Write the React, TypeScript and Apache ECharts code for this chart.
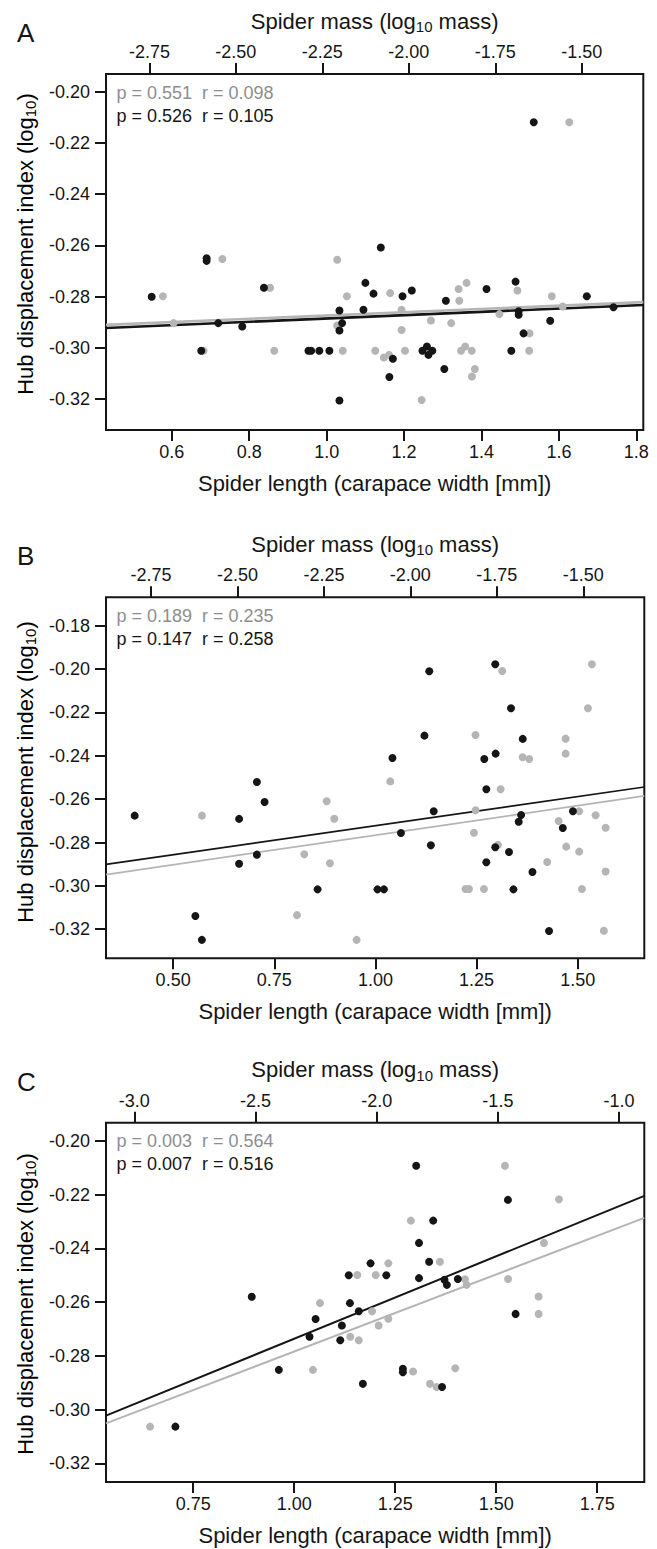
import React, { useEffect, useRef } from "react";
import * as echarts from "echarts";

const FONT = "'Liberation Sans', Arial, Helvetica, sans-serif";
const BLACK = "#151515";
const GRAY = "#b5b5b5";
const TEXT_GRAY = "#8e8e8e";

// ---------- Panel A ----------
const lengthTicksA = [0.6, 0.8, 1.0, 1.2, 1.4, 1.6, 1.8];
const massTicksA = [-2.75, -2.5, -2.25, -2.0, -1.75, -1.5];
const hubTicksA = [-0.32, -0.3, -0.28, -0.26, -0.24, -0.22, -0.2];
// black: [carapace width, hub index]
const blackA = [
  [0.548, -0.28], [0.690, -0.265], [0.690, -0.266], [0.838, -0.2765], [0.720, -0.2903],
  [0.782, -0.2916], [0.676, -0.3011], [1.140, -0.2608], [1.100, -0.2746], [1.121, -0.2788],
  [1.196, -0.2798], [1.220, -0.2776], [1.033, -0.2854], [1.095, -0.2851], [1.040, -0.2903],
  [1.033, -0.2932], [0.953, -0.3011], [0.960, -0.3011], [0.981, -0.3011], [1.007, -0.3011],
  [1.171, -0.3042], [1.162, -0.3113], [1.033, -0.3205], [1.2475, -0.3011], [1.259, -0.2994],
  [1.263, -0.3027], [1.273, -0.3011], [1.308, -0.2816], [1.304, -0.3082], [1.535, -0.2119],
  [1.413, -0.277], [1.488, -0.2741], [1.496, -0.2857], [1.496, -0.287], [1.5085, -0.2943],
  [1.477, -0.3011], [1.5775, -0.2894], [1.672, -0.2798], [1.741, -0.2841],
];
// gray: [log10 mass, hub index]
const grayA = [
  [-2.711, -0.2798], [-2.539, -0.2653], [-2.401, -0.2765], [-2.68, -0.2903], [-2.5935, -0.3011],
  [-2.389, -0.3011], [-2.207, -0.2656], [-2.179, -0.2798], [-2.207, -0.2912], [-2.191, -0.3011],
  [-2.097, -0.3011], [-2.072, -0.3037], [-2.057, -0.3027], [-2.054, -0.2786], [-2.021, -0.2851],
  [-2.021, -0.293], [-2.011, -0.3011], [-1.936, -0.2893], [-1.8775, -0.2903], [-1.963, -0.3203],
  [-1.856, -0.277], [-1.833, -0.2746], [-1.854, -0.2816], [-1.849, -0.3011], [-1.837, -0.2994],
  [-1.8175, -0.3111], [-1.536, -0.2119], [-1.818, -0.3011], [-1.809, -0.3082], [-1.738, -0.2868],
  [-1.686, -0.2776], [-1.651, -0.2943], [-1.652, -0.3011], [-1.5865, -0.2798], [-1.555, -0.2838],
];
const fitBlackA = [[0.43, -0.2922], [1.818, -0.2832]];
const fitGrayA = [[-2.8755, -0.291], [-1.322, -0.2821]];

// ---------- Panel B ----------
const lengthTicksB = [0.5, 0.75, 1.0, 1.25, 1.5];
const massTicksB = [-2.75, -2.5, -2.25, -2.0, -1.75, -1.5];
const hubTicksB = [-0.32, -0.3, -0.28, -0.26, -0.24, -0.22, -0.2, -0.18];
const blackB = [
  [0.405, -0.2676], [0.663, -0.2691], [0.707, -0.2521], [0.726, -0.2613], [0.663, -0.2898],
  [0.707, -0.2856], [0.857, -0.3016], [1.005, -0.3016], [1.021, -0.3016], [0.555, -0.3139],
  [0.571, -0.3249], [1.042, -0.241], [1.133, -0.201], [1.121, -0.2307], [1.144, -0.2656],
  [1.063, -0.2756], [1.137, -0.2813], [1.296, -0.1978], [1.335, -0.2181], [1.364, -0.2322],
  [1.269, -0.2415], [1.297, -0.239], [1.274, -0.2554], [1.36, -0.2673], [1.354, -0.2704],
  [1.296, -0.2822], [1.33, -0.2844], [1.274, -0.2891], [1.388, -0.2936], [1.341, -0.3016],
  [1.429, -0.3208], [1.488, -0.2656], [1.463, -0.2733],
];
const grayB = [
  [-2.6026, -0.2676], [-2.242, -0.261], [-2.2201, -0.269], [-2.3068, -0.2854], [-2.2325, -0.2896],
  [-2.3279, -0.3135], [-2.1553, -0.3249], [-2.0582, -0.2518], [-1.7344, -0.2009], [-1.8116, -0.2304],
  [-1.6754, -0.2407], [-1.6563, -0.2415], [-1.739, -0.2554], [-1.8116, -0.2651], [-1.8162, -0.2755],
  [-1.7468, -0.2811], [-1.8405, -0.3014], [-1.8307, -0.3014], [-1.7873, -0.3014], [-1.4751, -0.1978],
  [-1.4866, -0.2181], [-1.5511, -0.2321], [-1.5511, -0.239], [-1.5118, -0.2656], [-1.4644, -0.2674],
  [-1.4354, -0.2732], [-1.5713, -0.2701], [-1.5494, -0.2819], [-1.5118, -0.2842], [-1.6043, -0.289],
  [-1.4354, -0.2934], [-1.504, -0.3014], [-1.4404, -0.3207],
];
const fitBlackB = [[0.3341, -0.2901], [1.6644, -0.2544]];
const fitGrayB = [[-2.8801, -0.2948], [-1.3236, -0.2585]];

// ---------- Panel C ----------
const lengthTicksC = [0.75, 1.0, 1.25, 1.5, 1.75];
const massTicksC = [-3.0, -2.5, -2.0, -1.5, -1.0];
const hubTicksC = [-0.32, -0.3, -0.28, -0.26, -0.24, -0.22, -0.2];
const blackC = [
  [0.706, -0.3063], [0.895, -0.258], [0.962, -0.2852], [1.038, -0.2729], [1.053, -0.2663],
  [1.114, -0.2742], [1.118, -0.2687], [1.138, -0.2604], [1.16, -0.2634], [1.135, -0.25],
  [1.189, -0.2456], [1.228, -0.25], [1.17, -0.2904], [1.309, -0.238], [1.344, -0.2297],
  [1.334, -0.245], [1.309, -0.2511], [1.372, -0.2517], [1.378, -0.2536], [1.405, -0.2514],
  [1.269, -0.2848], [1.269, -0.2861], [1.366, -0.2916], [1.302, -0.2093], [1.529, -0.222],
  [1.548, -0.2644],
];
const grayC = [
  [-2.935, -0.3063], [-2.234, -0.2604], [-2.263, -0.2852], [-2.109, -0.2729], [-2.074, -0.2742],
  [-1.992, -0.2687], [-2.019, -0.2634], [-2.08, -0.2499], [-2.004, -0.2499], [-1.952, -0.2456],
  [-1.952, -0.2662], [-1.859, -0.2297], [-1.739, -0.245], [-1.636, -0.2515], [-1.629, -0.2536],
  [-1.85, -0.2858], [-1.78, -0.2904], [-1.753, -0.2916], [-1.676, -0.2846], [-1.471, -0.2093],
  [-1.248, -0.2218], [-1.31, -0.238], [-1.458, -0.2514], [-1.332, -0.2579], [-1.332, -0.2644],
];
const fitBlackC = [[0.5342, -0.3022], [1.8666, -0.2205]];
const fitGrayC = [[-3.1167, -0.3051], [-0.896, -0.2287]];

const statsGray = ["p = 0.551  r = 0.098", "p = 0.189  r = 0.235", "p = 0.003  r = 0.564"];
const statsBlack = ["p = 0.526  r = 0.105", "p = 0.147  r = 0.258", "p = 0.007  r = 0.516"];
const panelLetters = ["A", "B", "C"];

const MASS_TITLE = "{a|Spider mass (log}{s|10}{a| mass)}";
const LENGTH_TITLE = "Spider length (carapace width [mm])";
const HUB_TITLE = "{a|Hub displacement index (log}{s|10}{a|)}";

const rich = {
  a: { fontSize: 22, lineHeight: 26, fontFamily: FONT, color: BLACK },
  s: { fontSize: 15, lineHeight: 16, fontFamily: FONT, color: BLACK, verticalAlign: "bottom" as const },
};

export default function App() {
  const ref = useRef<HTMLDivElement>(null);
  useEffect(() => {
    document.body.style.margin = "0";
    if (!ref.current) return;
    const chart = echarts.init(ref.current, undefined, { renderer: "svg" });

    const layout = [
      { grid: { left: 106, top: 74, width: 537.3, height: 356 }, len: [0.43, 1.818], mass: [-2.8755, -1.322], hub: [-0.332, -0.1931], lw: 2.6, titleYc: 244, lenDec: 1, massDec: 2 },
      { grid: { left: 106, top: 597.3, width: 538.3, height: 361 }, len: [0.3341, 1.6644], mass: [-2.8801, -1.3236], hub: [-0.3334, -0.1669], lw: 1.7, titleYc: 772, lenDec: 2, massDec: 2 },
      { grid: { left: 106, top: 1122.7, width: 538.3, height: 363.3 }, len: [0.5342, 1.8666], mass: [-3.1167, -0.896], hub: [-0.3269, -0.1933], lw: 2.0, titleYc: 1304, lenDec: 2, massDec: 1 },
    ];
    const lenTicks = [lengthTicksA, lengthTicksB, lengthTicksC];
    const massTicks = [massTicksA, massTicksB, massTicksC];
    const hubTicks = [hubTicksA, hubTicksB, hubTicksC];
    const blacks = [blackA, blackB, blackC];
    const grays = [grayA, grayB, grayC];
    const fitBlacks = [fitBlackA, fitBlackB, fitBlackC];
    const fitGrays = [fitGrayA, fitGrayB, fitGrayC];

    const tick = (vals: number[]) => ({
      show: true,
      length: 11,
      lineStyle: { color: BLACK, width: 2 },
      customValues: vals,
    });
    const label = (vals: number[], dec: number, margin: number) => ({
      customValues: vals,
      formatter: (v: number) => Number(v).toFixed(dec),
      fontSize: 18,
      fontFamily: FONT,
      color: BLACK,
      margin,
    });

    const grid: any[] = [];
    const xAxis: any[] = [];
    const yAxis: any[] = [];
    const series: any[] = [];
    const graphic: any[] = [];

    layout.forEach((p, i) => {
      grid.push({ ...p.grid, show: true, borderWidth: 2, borderColor: BLACK, backgroundColor: "transparent" });
      xAxis.push({
        type: "value", gridIndex: i, position: "bottom", min: p.len[0], max: p.len[1],
        axisLine: { show: false }, splitLine: { show: false },
        axisTick: tick(lenTicks[i]), axisLabel: label(lenTicks[i], p.lenDec, 13),
        name: LENGTH_TITLE, nameLocation: "middle", nameGap: 40,
        nameTextStyle: { fontSize: 22, lineHeight: 26, fontFamily: FONT, color: BLACK },
      });
      xAxis.push({
        type: "value", gridIndex: i, position: "top", min: p.mass[0], max: p.mass[1],
        axisLine: { show: false }, splitLine: { show: false },
        axisTick: tick(massTicks[i]), axisLabel: label(massTicks[i], p.massDec, 13),
        name: MASS_TITLE, nameLocation: "middle", nameGap: 40,
        nameTextStyle: { rich },
      });
      yAxis.push({
        type: "value", gridIndex: i, min: p.hub[0], max: p.hub[1],
        axisLine: { show: false }, splitLine: { show: false },
        axisTick: tick(hubTicks[i]), axisLabel: label(hubTicks[i], 2, 16),
      });
      series.push(
        { type: "line", xAxisIndex: 2 * i, yAxisIndex: i, data: fitBlacks[i], symbol: "none", silent: true, z: 1, lineStyle: { color: BLACK, width: p.lw } },
        { type: "line", xAxisIndex: 2 * i + 1, yAxisIndex: i, data: fitGrays[i], symbol: "none", silent: true, z: 1, lineStyle: { color: GRAY, width: p.lw } },
        { type: "scatter", xAxisIndex: 2 * i + 1, yAxisIndex: i, data: grays[i], symbol: "circle", symbolSize: 8, z: 2, itemStyle: { color: GRAY, opacity: 1 } },
        { type: "scatter", xAxisIndex: 2 * i, yAxisIndex: i, data: blacks[i], symbol: "circle", symbolSize: 8, z: 3, itemStyle: { color: BLACK, opacity: 1 } },
      );
      const top = p.grid.top;
      graphic.push(
        { type: "text", x: 17, y: top - 41, style: { text: panelLetters[i], fontSize: 26, fontFamily: FONT, fill: BLACK, align: "left", verticalAlign: "middle" } },
        { type: "text", x: 116.5, y: top + 18.5, style: { text: statsGray[i].replace(/ {2}/g, "\u00a0\u00a0"), fontSize: 18, fontFamily: FONT, fill: TEXT_GRAY, align: "left", verticalAlign: "middle" } },
        { type: "text", x: 116.5, y: top + 41.5, style: { text: statsBlack[i].replace(/ {2}/g, "\u00a0\u00a0"), fontSize: 18, fontFamily: FONT, fill: BLACK, align: "left", verticalAlign: "middle" } },
        { type: "text", x: 25, y: p.titleYc, rotation: Math.PI / 2, style: { text: HUB_TITLE, rich, align: "center", verticalAlign: "middle" } },
      );
    });

    chart.setOption({
      animation: false,
      backgroundColor: "#ffffff",
      textStyle: { fontFamily: FONT },
      grid, xAxis, yAxis, series, graphic,
    });
    return () => chart.dispose();
  }, []);
  return <div ref={ref} style={{ width: 657, height: 1549 }} />;
}
